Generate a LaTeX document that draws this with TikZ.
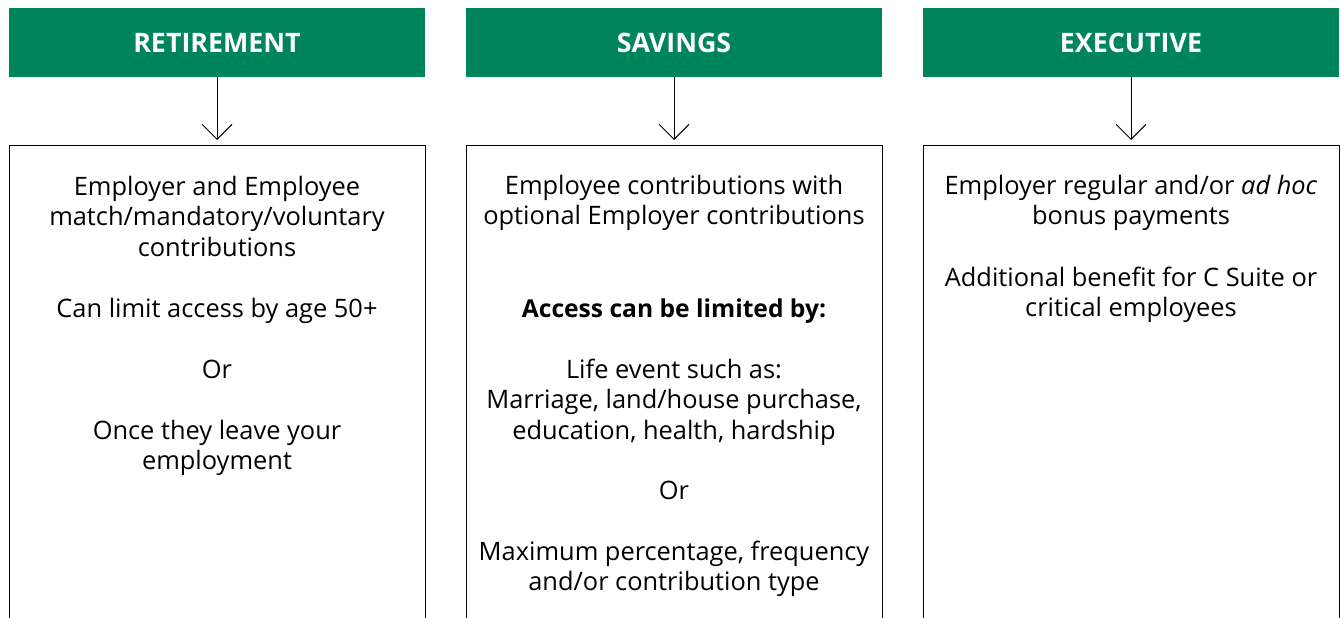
\documentclass[tikz,border=0pt]{standalone}
\usepackage{fontspec}
\setmainfont{Open Sans}
\usetikzlibrary{arrows.meta}
\definecolor{hdrgreen}{RGB}{0,132,92}
\tikzset{
  hdr/.style={fill=hdrgreen, text=white, minimum width=416pt, minimum height=69pt, inner sep=0pt,
    font=\fontsize{26.8}{30}\selectfont\bfseries},
  panel/.style={draw=black, line width=1pt, minimum width=416pt, minimum height=520pt, anchor=north, inner sep=0pt},
  txt/.style={align=center, font=\fontsize{25.4}{30.5}\selectfont, inner sep=0pt},
  boldtxt/.style={align=center, font=\fontsize{24.6}{30.5}\selectfont\bfseries, inner sep=0pt},
  arr/.style={-{Straight Barb[length=15pt,width=30pt,line width=1pt]}, line width=1pt, shorten >=5pt}
}
\begin{document}
\begin{tikzpicture}[x=1pt,y=-1pt]
\useasboundingbox (0,0) rectangle (1341,618);
\clip (0,0) rectangle (1341,618);
% headers
\node[hdr] (h1) at (217,42.5) {RETIREMENT};
\node[hdr] (h2) at (674,42.5) {SAVINGS};
\node[hdr] (h3) at (1131,42.5) {EXECUTIVE};
% panels
\node[panel] (b1) at (217,145) {};
\node[panel] (b2) at (674,145) {};
\node[panel] (b3) at (1131,145) {};
% arrows
\draw[arr] (h1.south) -- (b1.north);
\draw[arr] (h2.south) -- (b2.north);
\draw[arr] (h3.south) -- (b3.north);
% column 1
\node[txt] (r1) at (217,216) {Employer and Employee\\match/mandatory/voluntary\\contributions};
\node[txt] (r2) at (217,311) {Can limit access by age 50+};
\node[txt] (r3) at (217,369) {Or};
\node[txt] (r4) at (217,448) {Once they leave your\\employment};
% column 2
\node[txt] (s1) at (674,203) {Employee contributions with\\optional Employer contributions};
\node[boldtxt] (s2) at (674,311) {Access can be limited by:};
\node[txt] (s3) at (674,402) {Life event such as:\\Marriage, land/house purchase,\\education, health, hardship};
\node[txt] (s4) at (674,490) {Or};
\node[txt] (s5) at (674,569) {Maximum percentage, frequency\\and/or contribution type};
% column 3
\node[txt] (e1) at (1131,203) {Employer regular and/or \textit{ad hoc}\\bonus payments};
\node[txt] (e2) at (1131,295) {Additional benefit for C Suite or\\critical employees};
\end{tikzpicture}
\end{document}
